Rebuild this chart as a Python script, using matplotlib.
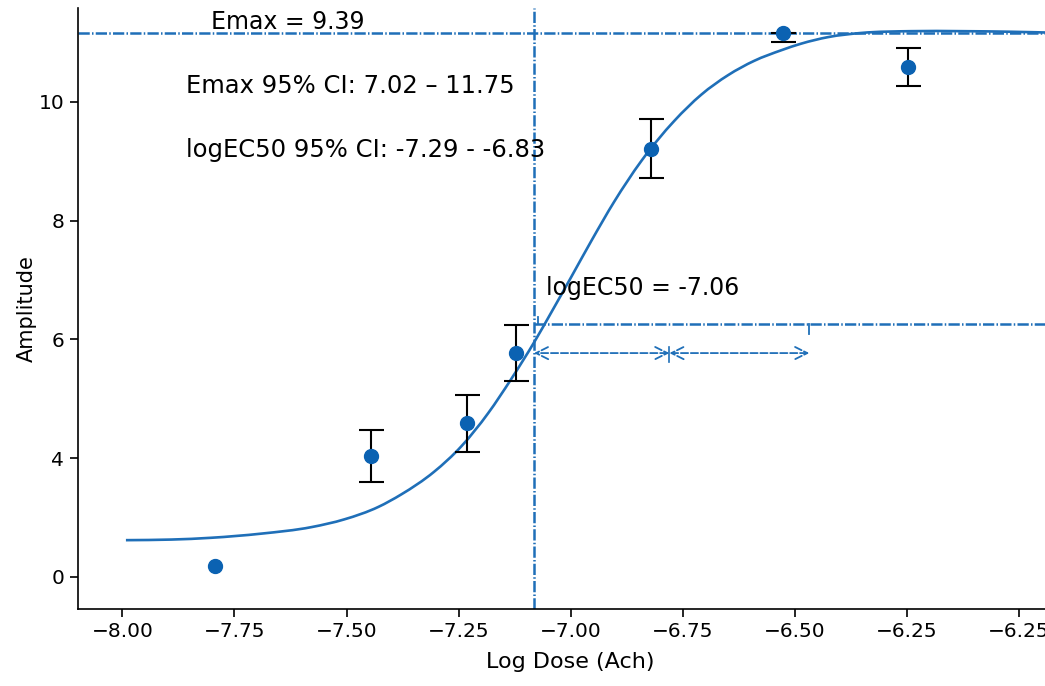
import numpy as np
import matplotlib.pyplot as plt
from matplotlib.path import Path
from matplotlib.patches import PathPatch

# measured points
log_dose = [-7.793, -7.445, -7.231, -7.122, -6.821, -6.527, -6.249]
amplitude = [2.19, 4.04, 4.59, 5.77, 9.21, 11.16, 10.59]
err_low = [np.nan, 0.44, 0.48, 0.47, 0.50, 0.15, 0.32]
err_high = [np.nan, 0.44, 0.48, 0.47, 0.50, 0.0, 0.32]

# fitted curve
fit_x = [-7.992, -7.891, -7.802, -7.690, -7.578, -7.505, -7.429, -7.378,
         -7.305, -7.244, -7.184, -7.133, -7.081, -7.043, -6.999, -6.954,
         -6.903, -6.843, -6.769, -6.709, -6.649, -6.591, -6.530, -6.486,
         -6.426, -6.352, -6.241, -6.129, -6.018, -5.900]
fit_y = [2.62, 2.63, 2.66, 2.73, 2.84, 2.97, 3.18, 3.39,
         3.77, 4.20, 4.76, 5.33, 5.96, 6.46, 7.05, 7.66,
         8.32, 9.00, 9.68, 10.12, 10.45, 10.69, 10.87, 10.98,
         11.09, 11.16, 11.19, 11.19, 11.18, 11.16]

emax_level = 11.16
ec50_x = -7.082
half_level = 6.26
span_mid = -6.78
span_end = -6.468
arrow_level = 5.77

xtick_pos = [-8.0, -7.75, -7.5, -7.25, -7.0, -6.75, -6.5, -6.25, -6.0]
xtick_labels = ['\u22128.00', '\u22127.75', '\u22127.50', '\u22127.25', '\u22127.00',
                '\u22126.75', '\u22126.50', '\u22126.25', '\u22126.25']
ytick_pos = [2, 4, 6, 8, 10]
ytick_labels = ['0', '4', '6', '8', '10']

blue = '#1f6fb8'
dot_blue = '#0b62b2'
dash = (0, (4.5, 0.9, 0.6, 0.9))


def smooth_path(xs, ys):
    # smooth line through the read points (cubic hermite as bezier segments)
    x = np.asarray(xs)
    y = np.asarray(ys)
    m = np.gradient(y, x)
    verts = [(x[0], y[0])]
    codes = [Path.MOVETO]
    for i in range(len(x) - 1):
        h = x[i + 1] - x[i]
        verts += [(x[i] + h / 3, y[i] + m[i] * h / 3),
                  (x[i + 1] - h / 3, y[i + 1] - m[i + 1] * h / 3),
                  (x[i + 1], y[i + 1])]
        codes += [Path.CURVE4] * 3
    return Path(verts, codes)


fig = plt.figure(figsize=(10.45, 6.86), dpi=100)
ax = fig.add_axes([77.5 / 1045, 1 - 608.7 / 686, (1064 - 77.5) / 1045, (608.7 - 8) / 686])
xlim = (-8.1, -5.9)
ax.set_xlim(*xlim)
ax.set_ylim(1.466, 11.58)

ax.add_patch(PathPatch(smooth_path(fit_x, fit_y), facecolor='none',
                       edgecolor=blue, lw=1.9, zorder=2))
ax.errorbar(log_dose, amplitude, yerr=[err_low, err_high], fmt='o', color=dot_blue, ms=10,
            ecolor='black', elinewidth=1.5, capsize=9, capthick=1.5, zorder=3)

ax.axhline(emax_level, color=blue, lw=1.8, linestyle=dash, zorder=1)
ax.axvline(ec50_x, color=blue, lw=1.8, linestyle=dash, zorder=1)
ax.axhline(half_level, xmin=(ec50_x - xlim[0]) / (xlim[1] - xlim[0]),
           color=blue, lw=1.8, linestyle=dash, zorder=1)
ax.plot([ec50_x + 0.008, ec50_x + 0.008], [half_level, half_level + 0.12], color=blue, lw=1.3)
ax.plot([span_end, span_end], [half_level, half_level - 0.17], color=blue, lw=1.3)

for a, b in [(ec50_x, span_mid), (span_mid, span_end)]:
    ax.annotate('', xy=(a, arrow_level), xytext=(b, arrow_level),
                arrowprops=dict(arrowstyle='<->', color=blue, lw=1.3,
                                linestyle=(0, (4, 1.5)), mutation_scale=22,
                                shrinkA=0, shrinkB=0))
ax.plot([span_mid, span_mid], [arrow_level - 0.15, arrow_level + 0.1], color=blue, lw=1.2)

ax.text(-7.802, 11.34, 'Emax = 9.39', fontsize=17, va='center', ha='left')
ax.text(-7.858, 10.27, 'Emax 95% CI: 7.02 \u2013 11.75', fontsize=17.5, va='center', ha='left')
ax.text(-7.858, 9.19, 'logEC50 95% CI: -7.29 - -6.83', fontsize=17.5, va='center', ha='left')
ax.text(-7.055, 6.87, 'logEC50 = -7.06', fontsize=17, va='center', ha='left')

ax.set_xticks(xtick_pos)
ax.set_xticklabels(xtick_labels)
ax.set_yticks(ytick_pos)
ax.set_yticklabels(ytick_labels)
ax.tick_params(labelsize=14.5, length=6, width=1.2)
ax.set_xlabel('Log Dose (Ach)', fontsize=16, labelpad=8)
ax.set_ylabel('Amplitude', fontsize=15, labelpad=1)

ax.spines['top'].set_visible(False)
ax.spines['right'].set_visible(False)
for s in ['left', 'bottom']:
    ax.spines[s].set_linewidth(1.2)

fig.savefig('out.png', dpi=100)
